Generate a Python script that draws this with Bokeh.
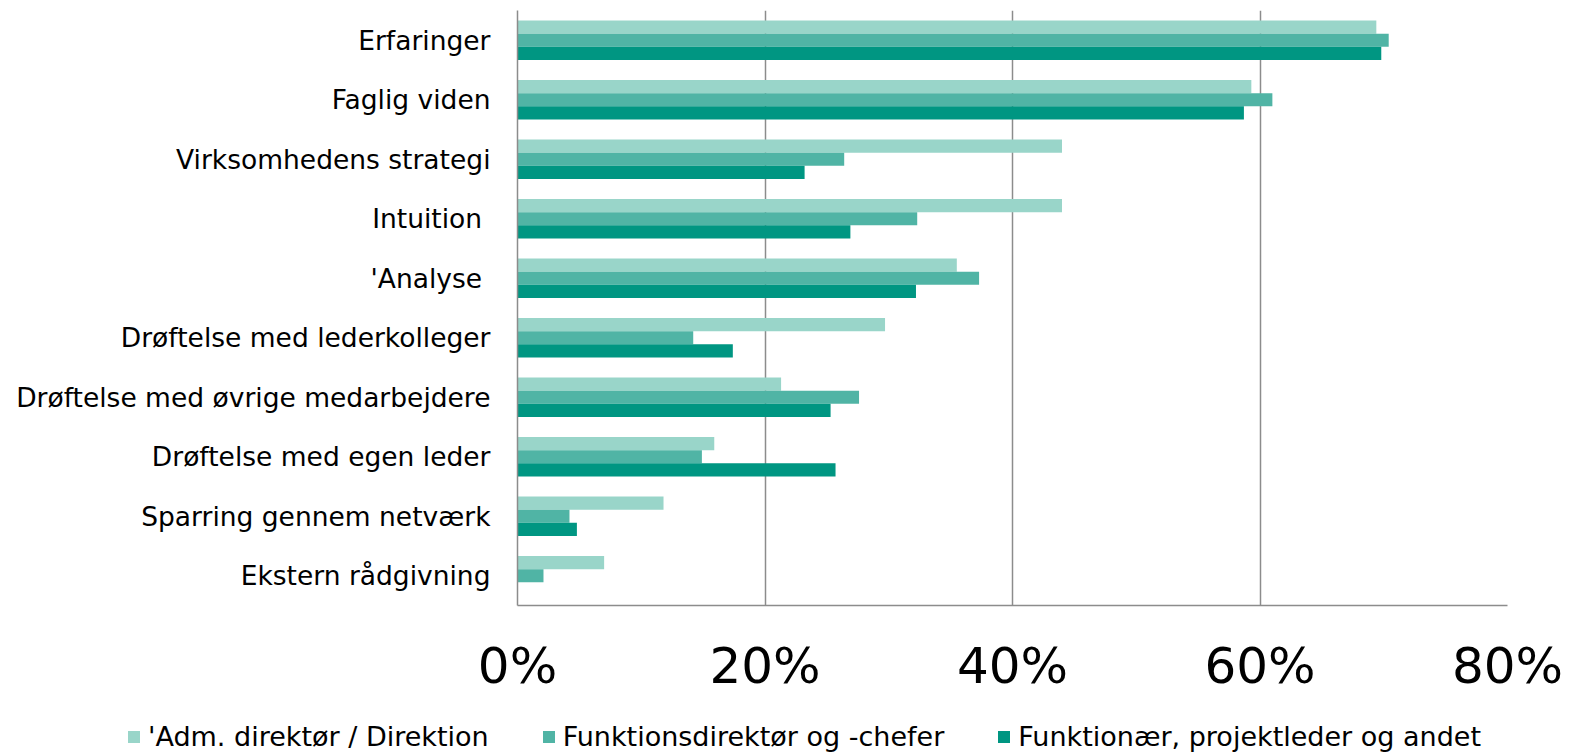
from bokeh.plotting import figure
from bokeh.models import FactorRange, FixedTicker, Legend, LegendItem, ColumnDataSource
from bokeh.transform import dodge
from bokeh.embed import file_html
from bokeh.resources import INLINE

categories = ["Erfaringer", "Faglig viden", "Virksomhedens strategi", "Intuition ",
              "'Analyse ", "Drøftelse med lederkolleger", "Drøftelse med øvrige medarbejdere",
              "Drøftelse med egen leder", "Sparring gennem netværk", "Ekstern rådgivning"]
series_names = ["'Adm. direktør / Direktion", "Funktionsdirektør og -chefer",
                "Funktionær, projektleder og andet"]
adm = [69.4, 59.3, 44.0, 44.0, 35.5, 29.7, 21.3, 15.9, 11.8, 7.0]
funk_dir = [70.4, 61.0, 26.4, 32.3, 37.3, 14.2, 27.6, 14.9, 4.2, 2.1]
funk = [69.8, 58.7, 23.2, 26.9, 32.2, 17.4, 25.3, 25.7, 4.8, 0.0]
tick_values = [0, 20, 40, 60, 80]
tick_labels = ["0%", "20%", "40%", "60%", "80%"]

colors = ["#99d5c9", "#50b4a5", "#009682"]
FONT = "DejaVu Sans"

src = ColumnDataSource(dict(cat=categories, adm=adm, fd=funk_dir, fu=funk))

W, H, LH = 1564, 700, 52
p = figure(width=W, height=H, output_backend="svg", toolbar_location=None,
           y_range=FactorRange(*list(reversed(categories)), range_padding=0),
           x_range=(0, 80),
           min_border_left=517, min_border_right=W - 1507, min_border_top=10,
           min_border_bottom=H - 605)
p.outline_line_color = None

bh = 0.22
p.hbar(y=dodge("cat", bh, range=p.y_range), right="adm", left=0, height=bh,
       source=src, color=colors[0], line_color=None)
p.hbar(y=dodge("cat", 0, range=p.y_range), right="fd", left=0, height=bh,
       source=src, color=colors[1], line_color=None)
p.hbar(y=dodge("cat", -bh, range=p.y_range), right="fu", left=0, height=bh,
       source=src, color=colors[2], line_color=None)

p.xaxis.ticker = FixedTicker(ticks=tick_values)
p.xaxis.major_label_overrides = {v: l for v, l in zip(tick_values, tick_labels)}
p.xaxis.major_label_text_font = FONT
p.xaxis.major_label_text_font_size = "50px"
p.xaxis.major_label_text_color = "black"
p.xaxis.major_label_standoff = 31
p.xaxis.major_tick_out = 0
p.xaxis.major_tick_line_color = None
p.xaxis.minor_tick_line_color = None
p.xaxis.axis_line_color = "#8c8c8c"
p.xaxis.axis_line_width = 1.5

p.yaxis.major_label_text_font = FONT
p.yaxis.major_label_text_font_size = "26.5px"
p.yaxis.major_label_text_color = "black"
p.yaxis.major_label_standoff = 27
p.yaxis.major_tick_out = 0
p.yaxis.major_tick_line_color = None
p.yaxis.minor_tick_line_color = None
p.yaxis.axis_line_color = "#8c8c8c"
p.yaxis.axis_line_width = 1.5

p.xgrid.grid_line_color = "#8c8c8c"
p.xgrid.grid_line_width = 1.5
p.ygrid.grid_line_color = None

# legend strip: a separate root so its frame spans the full width
pl = figure(width=W, height=LH, output_backend="svg", toolbar_location=None,
            x_axis_type=None, y_axis_type=None,
            min_border_left=0, min_border_right=0, min_border_top=0, min_border_bottom=0,
            x_range=(0, 1), y_range=(0, 1))
pl.outline_line_color = None
pl.grid.grid_line_color = None
lr = [pl.hbar(y=[-10], right=[1], left=0, height=0.1, color=c, line_color=None)
      for c in colors]

legend = Legend(items=[LegendItem(label=n, renderers=[r]) for n, r in zip(series_names, lr)],
                orientation="horizontal", location=(126, 0),
                padding=0, margin=0, spacing=52, label_standoff=7,
                glyph_width=15, glyph_height=15,
                label_text_font=FONT, label_text_font_size="27px",
                label_text_color="black",
                border_line_color=None, background_fill_alpha=0)
pl.add_layout(legend, "center")

open("out.html", "w").write(file_html([p, pl], INLINE))
